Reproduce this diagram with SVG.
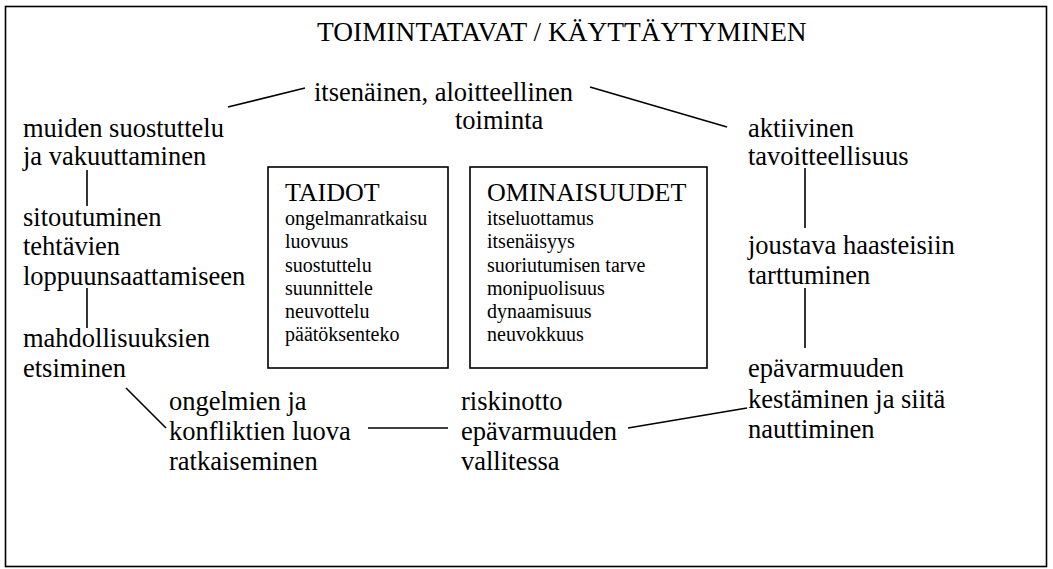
<svg xmlns="http://www.w3.org/2000/svg" width="1053" height="569" viewBox="0 0 1053 569">
  <style>
    text { font-family: 'Liberation Serif', Tinos, 'DejaVu Serif', serif; fill: #000; }
    .title { font-size: 27.4px; }
    .lbl { font-size: 26.5px; }
    .head { font-size: 26px; }
    .item { font-size: 20px; }
    .frame { fill: #fff; stroke: #000; stroke-width: 1.6; }
    .box { fill: none; stroke: #000; stroke-width: 1.6; }
    .conn line { stroke: #000; stroke-width: 1.6; }
  </style>

  <!-- outer frame -->
  <rect class="frame" x="5.5" y="6.5" width="1041" height="560"/>

  <text id="title" class="title" x="317" y="41">TOIMINTATAVAT / KÄYTTÄYTYMINEN</text>

  <!-- connectors between the behaviour labels -->
  <g id="connectors" class="conn">
    <line x1="228" y1="107" x2="305" y2="88"/>
    <line x1="590" y1="87" x2="727" y2="127"/>
    <line x1="87" y1="170" x2="87" y2="206"/>
    <line x1="87" y1="288" x2="87" y2="328"/>
    <line x1="126" y1="388" x2="166" y2="428"/>
    <line x1="368" y1="428" x2="448" y2="428"/>
    <line x1="628" y1="428" x2="747" y2="408"/>
    <line x1="805" y1="168" x2="805" y2="228"/>
    <line x1="805" y1="288" x2="805" y2="348"/>
  </g>

  <g id="n-itsenainen">
    <text class="lbl" x="314" y="101">itsenäinen, aloitteellinen</text>
    <text class="lbl" x="455" y="129">toiminta</text>
  </g>
  <g id="n-suostuttelu">
    <text class="lbl" x="23" y="137">muiden suostuttelu</text>
    <text class="lbl" x="23" y="165">ja vakuuttaminen</text>
  </g>
  <g id="n-aktiivinen">
    <text class="lbl" x="748" y="137">aktiivinen</text>
    <text class="lbl" x="748" y="165">tavoitteellisuus</text>
  </g>
  <g id="n-sitoutuminen">
    <text class="lbl" x="23" y="226">sitoutuminen</text>
    <text class="lbl" x="23" y="255">tehtävien</text>
    <text class="lbl" x="23" y="285">loppuunsaattamiseen</text>
  </g>
  <g id="n-mahdollisuudet">
    <text class="lbl" x="23" y="347">mahdollisuuksien</text>
    <text class="lbl" x="23" y="377">etsiminen</text>
  </g>
  <g id="n-joustava">
    <text class="lbl" x="748" y="254">joustava haasteisiin</text>
    <text class="lbl" x="748" y="284">tarttuminen</text>
  </g>
  <g id="n-epavarmuus">
    <text class="lbl" x="748" y="377">epävarmuuden</text>
    <text class="lbl" x="748" y="408">kestäminen ja siitä</text>
    <text class="lbl" x="748" y="438">nauttiminen</text>
  </g>
  <g id="n-ongelmat">
    <text class="lbl" x="169" y="410">ongelmien ja</text>
    <text class="lbl" x="169" y="440">konfliktien luova</text>
    <text class="lbl" x="169" y="470">ratkaiseminen</text>
  </g>
  <g id="n-riskinotto">
    <text class="lbl" x="461" y="410">riskinotto</text>
    <text class="lbl" x="461" y="440">epävarmuuden</text>
    <text class="lbl" x="461" y="470">vallitessa</text>
  </g>

  <g id="n-taidot">
    <rect class="box" x="268" y="167" width="180" height="201"/>
    <text class="head" x="285" y="201">TAIDOT</text>
    <text class="item" x="285" y="225">ongelmanratkaisu</text>
    <text class="item" x="285" y="248">luovuus</text>
    <text class="item" x="285" y="272">suostuttelu</text>
    <text class="item" x="285" y="295">suunnittele</text>
    <text class="item" x="285" y="318">neuvottelu</text>
    <text class="item" x="285" y="341">päätöksenteko</text>
  </g>
  <g id="n-ominaisuudet">
    <rect class="box" x="470" y="167" width="237" height="201"/>
    <text class="head" x="487" y="201">OMINAISUUDET</text>
    <text class="item" x="487" y="225">itseluottamus</text>
    <text class="item" x="487" y="248">itsenäisyys</text>
    <text class="item" x="487" y="272">suoriutumisen tarve</text>
    <text class="item" x="487" y="295">monipuolisuus</text>
    <text class="item" x="487" y="318">dynaamisuus</text>
    <text class="item" x="487" y="341">neuvokkuus</text>
  </g>
</svg>
